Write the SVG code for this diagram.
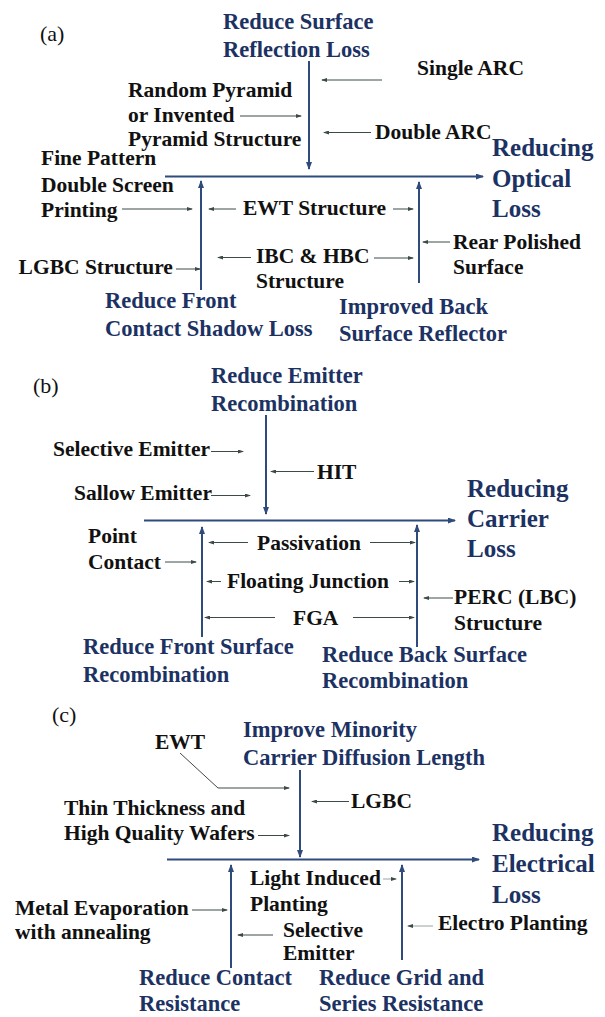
<svg xmlns="http://www.w3.org/2000/svg" width="605" height="1017" viewBox="0 0 605 1017">
<style>
text{font-family:"Liberation Serif","Times New Roman",serif;font-weight:bold}
.p{font-weight:normal;font-size:22px;fill:#111}
.k{font-size:21.5px;fill:#111}
.b{font-size:22.5px;fill:#1c3263}
.B{font-size:25px;fill:#1c3263}
.m{stroke:#2f4b7c;stroke-width:2;fill:none;marker-end:url(#am)}
.s{stroke:#3d4a4a;stroke-width:1;fill:none;marker-end:url(#as)}
.f{stroke:#9aa2a2;stroke-width:1;fill:none;marker-end:url(#as)}
</style>
<defs>
<marker id="am" markerUnits="userSpaceOnUse" viewBox="0 0 8 6" refX="7" refY="3" markerWidth="8" markerHeight="6" orient="auto"><path d="M0,0 L8,3 L0,6 z" fill="#2f4b7c"/></marker>
<marker id="as" markerUnits="userSpaceOnUse" viewBox="0 0 6 4" refX="5" refY="2" markerWidth="6" markerHeight="4" orient="auto"><path d="M0,0 L6,2 L0,4 z" fill="#3d4a4a"/></marker>
</defs>
<rect width="605" height="1017" fill="#fff"/>
<g id="connectors">
<!-- panel a -->
<line class="m" x1="309" y1="61" x2="309" y2="169"/>
<line class="m" x1="165" y1="176.5" x2="483" y2="176.5"/>
<line class="m" x1="201" y1="290" x2="201" y2="181"/>
<line class="m" x1="419" y1="283" x2="419" y2="182"/>
<line class="s" x1="382" y1="80" x2="322" y2="80"/>
<line class="s" x1="240" y1="116" x2="301" y2="116"/>
<line class="s" x1="371" y1="132.5" x2="324" y2="132.5"/>
<line class="s" x1="122" y1="209" x2="192" y2="209"/>
<line class="s" x1="236" y1="209" x2="209" y2="209"/>
<line class="s" x1="393" y1="209" x2="413" y2="209"/>
<line class="s" x1="450" y1="242" x2="423" y2="242"/>
<line class="s" x1="251" y1="257.5" x2="218" y2="257.5"/>
<line class="s" x1="374" y1="258" x2="413" y2="258"/>
<line class="s" x1="176" y1="269" x2="200" y2="269"/>
<!-- panel b -->
<line class="m" x1="266" y1="415" x2="266" y2="514"/>
<line class="m" x1="144" y1="520.5" x2="455" y2="520.5"/>
<line class="m" x1="202" y1="637" x2="202" y2="527"/>
<line class="m" x1="417" y1="647" x2="417" y2="525"/>
<line class="s" x1="211" y1="451.5" x2="243" y2="451.5"/>
<line class="s" x1="314" y1="471.5" x2="271" y2="471.5"/>
<line class="s" x1="211" y1="495.5" x2="250" y2="495.5"/>
<line class="s" x1="248" y1="542.5" x2="209" y2="542.5"/>
<line class="s" x1="370" y1="542.5" x2="415" y2="542.5"/>
<line class="s" x1="165" y1="562" x2="196" y2="562"/>
<line class="s" x1="221" y1="581.5" x2="207" y2="581.5"/>
<line class="s" x1="399" y1="581.5" x2="414" y2="581.5"/>
<line class="s" x1="453" y1="598" x2="424" y2="598"/>
<line class="s" x1="275" y1="617.5" x2="205" y2="617.5"/>
<line class="s" x1="353" y1="617.5" x2="414" y2="617.5"/>
<!-- panel c -->
<line class="m" x1="300" y1="770" x2="300" y2="857"/>
<line class="m" x1="167" y1="859.5" x2="479" y2="859.5"/>
<line class="m" x1="231" y1="968" x2="231" y2="865"/>
<line class="m" x1="402" y1="960" x2="402" y2="865"/>
<polyline class="s" points="180,753 218,788 289,788"/>
<line class="s" x1="349" y1="801.5" x2="312" y2="801.5"/>
<line class="s" x1="258" y1="835.5" x2="289" y2="835.5"/>
<line class="f" x1="383" y1="879" x2="396" y2="879"/>
<line class="s" x1="192" y1="910" x2="227" y2="910"/>
<line class="s" x1="273" y1="935" x2="238" y2="935"/>
<line class="f" x1="433" y1="926" x2="408" y2="926"/>
</g>
<!-- panel a nodes -->
<g id="label-a"><text class="p" x="40" y="41">(a)</text></g>
<g id="reduce-surface-reflection"><text class="b" x="223" y="29">Reduce Surface</text><text class="b" x="223" y="57">Reflection Loss</text></g>
<g id="single-arc"><text class="k" x="417" y="75">Single ARC</text></g>
<g id="random-pyramid"><text class="k" x="128" y="97">Random Pyramid</text><text class="k" x="128" y="122">or Invented</text><text class="k" x="128" y="146">Pyramid Structure</text></g>
<g id="double-arc"><text class="k" x="375" y="139">Double ARC</text></g>
<g id="reducing-optical"><text class="B" x="492" y="156">Reducing</text><text class="B" x="492" y="187">Optical</text><text class="B" x="492" y="217">Loss</text></g>
<g id="fine-pattern"><text class="k" x="41" y="165">Fine Pattern</text><text class="k" x="41" y="192">Double Screen</text><text class="k" x="41" y="217">Printing</text></g>
<g id="ewt-structure"><text class="k" x="243" y="215">EWT Structure</text></g>
<g id="rear-polished"><text class="k" x="453" y="249">Rear Polished</text><text class="k" x="453" y="274">Surface</text></g>
<g id="ibc-hbc"><text class="k" x="256" y="263">IBC &amp; HBC</text><text class="k" x="256" y="288">Structure</text></g>
<g id="lgbc-a"><text class="k" x="18.6" y="274">LGBC Structure</text></g>
<g id="reduce-front-contact"><text class="b" x="105" y="308">Reduce Front</text><text class="b" x="105" y="336">Contact Shadow Loss</text></g>
<g id="improved-back"><text class="b" x="339" y="314">Improved Back</text><text class="b" x="339" y="341">Surface Reflector</text></g>
<!-- panel b nodes -->
<g id="label-b"><text class="p" x="33" y="393">(b)</text></g>
<g id="reduce-emitter"><text class="b" x="211" y="383">Reduce Emitter</text><text class="b" x="211" y="411">Recombination</text></g>
<g id="selective-emitter-b"><text class="k" x="53" y="456">Selective Emitter</text></g>
<g id="hit"><text class="k" x="317" y="479">HIT</text></g>
<g id="sallow-emitter"><text class="k" x="74" y="500">Sallow Emitter</text></g>
<g id="reducing-carrier"><text class="B" x="467" y="496.5">Reducing</text><text class="B" x="467" y="527">Carrier</text><text class="B" x="467" y="557">Loss</text></g>
<g id="point-contact"><text class="k" x="88" y="543">Point</text><text class="k" x="88" y="569">Contact</text></g>
<g id="passivation"><text class="k" x="257" y="550">Passivation</text></g>
<g id="floating-junction"><text class="k" x="227" y="588">Floating Junction</text></g>
<g id="perc"><text class="k" x="454" y="604">PERC (LBC)</text><text class="k" x="454" y="630">Structure</text></g>
<g id="fga"><text class="k" x="293" y="625">FGA</text></g>
<g id="reduce-front-surface"><text class="b" x="83" y="654">Reduce Front Surface</text><text class="b" x="83" y="682">Recombination</text></g>
<g id="reduce-back-surface"><text class="b" x="322" y="662">Reduce Back Surface</text><text class="b" x="322" y="688">Recombination</text></g>
<!-- panel c nodes -->
<g id="label-c"><text class="p" x="52" y="722">(c)</text></g>
<g id="ewt-c"><text class="k" x="155" y="749">EWT</text></g>
<g id="improve-minority"><text class="b" x="243" y="737">Improve Minority</text><text class="b" x="243" y="765">Carrier Diffusion Length</text></g>
<g id="lgbc-c"><text class="k" x="351" y="808">LGBC</text></g>
<g id="thin-thickness"><text class="k" x="64" y="815">Thin Thickness and</text><text class="k" x="64" y="840">High Quality Wafers</text></g>
<g id="reducing-electrical"><text class="B" x="492" y="841">Reducing</text><text class="B" x="492" y="872">Electrical</text><text class="B" x="492" y="903">Loss</text></g>
<g id="light-induced"><text class="k" x="250" y="885">Light Induced</text><text class="k" x="250" y="911">Planting</text></g>
<g id="metal-evaporation"><text class="k" x="15" y="915">Metal Evaporation</text><text class="k" x="15" y="939">with annealing</text></g>
<g id="selective-emitter-c"><text class="k" x="283" y="936.5">Selective</text><text class="k" x="283" y="960">Emitter</text></g>
<g id="electro-planting"><text class="k" x="438" y="930">Electro Planting</text></g>
<g id="reduce-contact"><text class="b" x="139" y="985">Reduce Contact</text><text class="b" x="139" y="1010.5">Resistance</text></g>
<g id="reduce-grid"><text class="b" x="319" y="985">Reduce Grid and</text><text class="b" x="319" y="1010.5">Series Resistance</text></g>
</svg>
